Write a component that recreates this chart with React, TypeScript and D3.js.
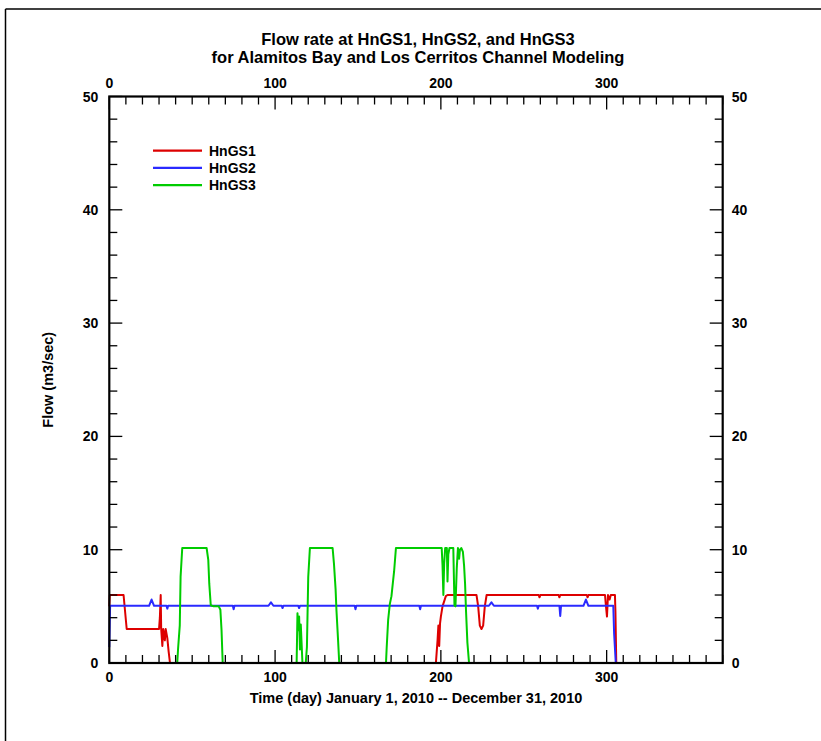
import React from "react";
import * as d3 from "d3";

// ---------- data (day, flow m3/sec) ----------
const SERIES_NAMES = ["HnGS1", "HnGS2", "HnGS3"];
const SERIES_COLORS = ["#dd0000", "#2a2aff", "#00cc00"];

const HNGS1: [number, number][] = [
  [0, 5.0], [0.3, 6.0], [8.6, 6.0], [10.5, 3.0], [30, 3.0], [30.5, 4.0], [31, 6.0], [31.3, 3.0],
  [32, 1.5], [32.5, 3.0], [33.5, 2.0], [34, 3.0], [35, 2.2], [35.8, 1.0], [36.6, 0], [197, 0],
  [197.5, 1.0], [198, 2.0], [198.5, 3.3], [199, 1.5], [199.5, 3.5], [200, 4.1], [201, 5.0],
  [203, 5.9], [204, 6.0], [221.5, 6.0], [222.5, 5.0], [223.5, 3.3], [224.5, 3.0], [225.5, 3.3],
  [226.5, 5.0], [227.6, 6.0], [259, 6.0], [259.5, 5.8], [260, 6.0], [271, 6.0], [271.5, 5.8],
  [272, 6.0], [288, 6.0], [288.5, 5.8], [289, 6.0], [299, 6.0], [299.6, 5.0], [300.2, 4.1],
  [300.8, 6.0], [301.8, 5.6], [302.5, 6.0], [305, 6.0], [305.3, 4.5], [305.8, 0],
];

const HNGS2: [number, number][] = [
  [0, 1.4], [0.5, 5.05], [24, 5.05], [25.5, 5.6], [27, 5.05], [34.5, 5.05], [35, 4.8], [35.5, 5.05],
  [74.5, 5.05], [75, 4.75], [75.5, 5.05], [96, 5.05], [97.5, 5.35], [99, 5.05], [104, 5.05],
  [104.5, 4.85], [105, 5.05], [114, 5.05], [114.5, 4.85], [115, 5.05], [148, 5.05], [148.5, 4.75],
  [149, 5.05], [187, 5.05], [187.5, 4.75], [188, 5.05], [229, 5.05], [230.5, 5.35], [232, 5.05],
  [258, 5.05], [258.5, 4.8], [259, 5.05], [271.5, 5.05], [272, 4.15], [272.5, 5.05], [286, 5.05],
  [287.5, 5.6], [289, 5.05], [304, 5.05], [304.5, 2.6], [305.5, 0],
];

const HNGS3: [number, number][] = [
  [0, 0], [41, 0], [41.5, 1.3], [42.5, 3.3], [43, 7.6], [44, 10.15], [58.7, 10.15], [59.7, 9.1],
  [60.3, 7.0], [61.2, 5.1], [63, 5.0], [66, 5.0], [67, 4.7], [67.7, 2.9], [68.4, 0], [113, 0],
  [113.5, 4.4], [114, 2.9], [114.5, 4.1], [115, 1.2], [115.5, 3.4], [116.5, 0], [118.5, 0],
  [119.2, 1.4], [120, 7.6], [121, 10.15], [134.7, 10.15], [135.5, 8.8], [136.5, 6.5], [137, 4.7],
  [138, 2.0], [138.7, 0], [166.9, 0], [167.3, 1.3], [168.2, 3.8], [169.2, 5.2], [170.2, 5.9],
  [171.2, 7.3], [171.8, 8.1], [172.9, 10.15], [200.5, 10.15], [201, 8.6], [201.5, 6.0], [202, 8.8],
  [202.6, 10.15], [203.6, 10.15], [204, 7.2], [204.5, 9.6], [205.2, 10.15], [207.5, 10.15],
  [208.2, 5.1], [208.8, 5.0], [209.6, 8.4], [210.3, 10.15], [211, 9.2], [211.5, 10.0],
  [212.3, 10.15], [213.3, 9.8], [214, 8.6], [214.6, 7.0], [215.2, 4.5], [216, 1.8], [217, 0],
];

const X_MAJOR_TICKS = [0, 100, 200, 300];
const Y_MAJOR_TICKS = [0, 10, 20, 30, 40, 50];
const TITLE_LINES = [
  "Flow rate at HnGS1, HnGS2, and HnGS3",
  "for Alamitos Bay and Los Cerritos Channel Modeling",
];
const X_TITLE = "Time (day) January 1, 2010 -- December 31, 2010";
const Y_TITLE = "Flow (m3/sec)";

// ---------- layout ----------
const W = 821;
const H = 741;
const L = 109.3;
const R = 722.7;
const T = 96.5;
const B = 663;
const FONT = "'Liberation Sans', Arial, Helvetica, sans-serif";

export default function App() {
  const x = d3.scaleLinear().domain([0, 370]).range([L, R]);
  const y = d3.scaleLinear().domain([0, 50]).range([B, T]);
  const line = d3
    .line<[number, number]>()
    .x((d) => x(d[0]))
    .y((d) => y(d[1]));
  const data = [HNGS1, HNGS2, HNGS3];

  const xMinor = d3.range(0, 371, 10);
  const yMinor = d3.range(0, 51, 2);
  const minorLen = 8;
  const majorLen = 13;

  const tickStyle = { fontFamily: FONT, fontWeight: 700, fontSize: 14, fill: "#000" } as const;

  return (
    <svg
      width={W}
      height={H}
      style={{ position: "absolute", left: 0, top: 0, background: "#fff" }}
    >
      <rect x={0} y={0} width={W} height={H} fill="#fff" />
      {/* outer frame */}
      <line x1={5.5} y1={9} x2={5.5} y2={H} stroke="#000" strokeWidth={1.5} />
      <line x1={5.5} y1={9} x2={W} y2={9} stroke="#000" strokeWidth={1.5} />

      {/* title */}
      {TITLE_LINES.map((t, i) => (
        <text
          key={t}
          x={(L + R) / 2 + 2}
          y={45 + i * 18}
          textAnchor="middle"
          style={{ fontFamily: FONT, fontWeight: 700, fontSize: 16.5 }}
        >
          {t}
        </text>
      ))}

      {/* data lines */}
      <defs>
        <clipPath id="plotclip">
          <rect x={L - 2} y={T} width={R - L + 4} height={B - T + 2} />
        </clipPath>
      </defs>
      <g clipPath="url(#plotclip)">
        {data.map((d, i) => (
          <path
            key={SERIES_NAMES[i]}
            d={line(d) || ""}
            fill="none"
            stroke={SERIES_COLORS[i]}
            strokeWidth={2}
            strokeLinejoin="round"
          />
        ))}
      </g>

      {/* ticks */}
      {xMinor.map((v) => {
        const len = v % 100 === 0 ? majorLen : minorLen;
        return (
          <g key={"xt" + v}>
            <line x1={x(v)} x2={x(v)} y1={B} y2={B - len} stroke="#000" strokeWidth={1.3} />
            <line x1={x(v)} x2={x(v)} y1={T} y2={T + len} stroke="#000" strokeWidth={1.3} />
          </g>
        );
      })}
      {yMinor.map((v) => {
        const len = v % 10 === 0 ? majorLen : minorLen;
        return (
          <g key={"yt" + v}>
            <line x1={L} x2={L + len} y1={y(v)} y2={y(v)} stroke="#000" strokeWidth={1.3} />
            <line x1={R} x2={R - len} y1={y(v)} y2={y(v)} stroke="#000" strokeWidth={1.3} />
          </g>
        );
      })}

      {/* frame of plot */}
      <rect x={L} y={T} width={R - L} height={B - T} fill="none" stroke="#000" strokeWidth={2.2} />

      {/* tick labels */}
      {X_MAJOR_TICKS.map((v) => (
        <g key={"xl" + v}>
          <text x={x(v)} y={B + 19} textAnchor="middle" style={tickStyle}>
            {v}
          </text>
          <text x={x(v)} y={T - 9} textAnchor="middle" style={tickStyle}>
            {v}
          </text>
        </g>
      ))}
      {Y_MAJOR_TICKS.map((v) => (
        <g key={"yl" + v}>
          <text x={L - 11} y={y(v) + 5} textAnchor="end" style={tickStyle}>
            {v}
          </text>
          <text x={R + 9} y={y(v) + 5} textAnchor="start" style={tickStyle}>
            {v}
          </text>
        </g>
      ))}

      {/* axis titles */}
      <text
        x={(L + R) / 2}
        y={703}
        textAnchor="middle"
        style={{ fontFamily: FONT, fontWeight: 700, fontSize: 14.5 }}
      >
        {X_TITLE}
      </text>
      <text
        transform={`translate(53, ${(T + B) / 2}) rotate(-90)`}
        textAnchor="middle"
        style={{ fontFamily: FONT, fontWeight: 700, fontSize: 14.5 }}
      >
        {Y_TITLE}
      </text>

      {/* legend */}
      {SERIES_NAMES.map((n, i) => (
        <g key={"lg" + n} transform={`translate(0, ${150.7 + i * 17.2})`}>
          <line x1={153} x2={202} y1={0} y2={0} stroke={SERIES_COLORS[i]} strokeWidth={2.2} />
          <text x={209} y={5} style={{ fontFamily: FONT, fontWeight: 700, fontSize: 14 }}>
            {n}
          </text>
        </g>
      ))}
    </svg>
  );
}
